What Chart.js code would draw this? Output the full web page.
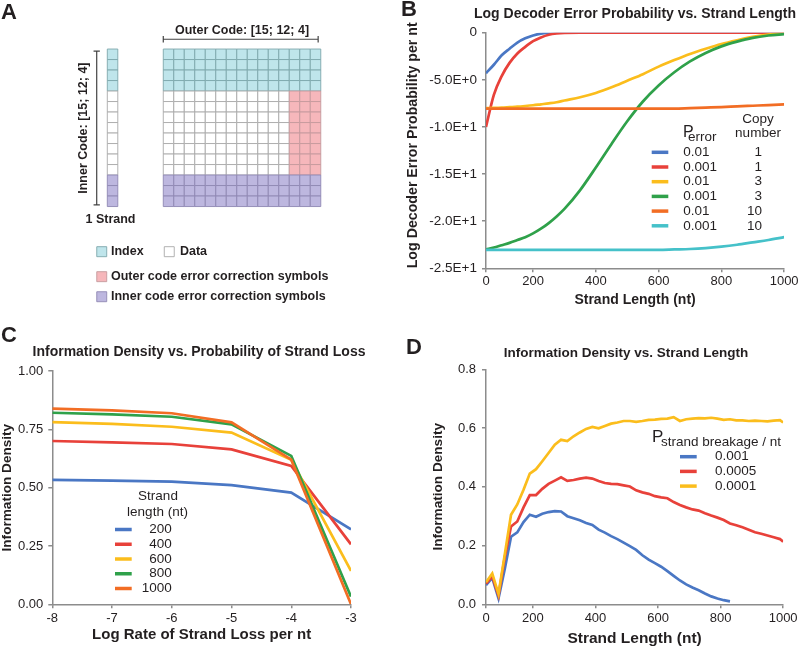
<!DOCTYPE html>
<html>
<head>
<meta charset="utf-8">
<script src="https://cdn.jsdelivr.net/npm/chart.js@4.4.1/dist/chart.umd.min.js"></script>
<style>
  html, body { margin: 0; padding: 0; background: #fff; }
  #page { position: relative; width: 800px; height: 646px; overflow: hidden; }
  #page canvas { position: absolute; }
  .tag { position: absolute; font: bold 22px/22px "Liberation Sans", Arial, sans-serif; color: #231f20; }
</style>
</head>
<body>
<div id="page">
  <canvas id="chartA" width="399" height="315" style="left:0;top:0"></canvas>
  <canvas id="chartB" width="400" height="323" style="left:400px;top:0"></canvas>
  <canvas id="chartC" width="400" height="323" style="left:0;top:323px"></canvas>
  <canvas id="chartD" width="400" height="323" style="left:400px;top:323px"></canvas>
  <div class="tag" style="left:1px;top:1px">A</div>
  <div class="tag" style="left:401px;top:-2px">B</div>
  <div class="tag" style="left:1px;top:324px">C</div>
  <div class="tag" style="left:406px;top:336px">D</div>
</div>
<script>
// ---------- data ----------
// A: rows of one block (top to bottom), 15 strands wide, last 3 columns are outer code parity
const blockRowKinds = ['index', 'index', 'index', 'index',
  'data', 'data', 'data', 'data', 'data', 'data', 'data', 'data',
  'inner', 'inner', 'inner'];
const blockColumns = 15;
const outerCodeColumns = 3;
const legendKindsA = ['index', 'data', 'outer', 'inner'];
const legendTextA = ['Index', 'Data', 'Outer code error correction symbols', 'Inner code error correction symbols'];

// B: log decoder error probability vs strand length
const lengthB = [50, 75, 100, 125, 150, 175, 200, 225, 250, 275, 300, 350, 400, 450, 500, 550, 600, 650, 700, 750, 800, 850, 900, 950, 1000];
const pErrorB = ['0.01', '0.001', '0.01', '0.001', '0.01', '0.001'];
const copyNumberB = ['1', '1', '3', '3', '10', '10'];
const err001x1 = [-4.3, -3.4, -2.4, -1.7, -1.05, -0.6, -0.3, -0.1, -0.02, 0, 0, 0, 0, 0, 0, 0, 0, 0, 0, 0, 0, 0, 0, 0, 0];
const err0001x1 = [-10, -6.6, -4.6, -3.2, -2.2, -1.5, -0.9, -0.5, -0.22, -0.08, -0.02, 0, 0, 0, 0, 0, 0, 0, 0, 0, 0, 0, 0, 0, 0];
const err001x3 = [-8.0, -7.98, -7.95, -7.9, -7.85, -7.78, -7.7, -7.6, -7.5, -7.38, -7.2, -6.85, -6.4, -5.8, -5.1, -4.4, -3.6, -2.9, -2.25, -1.7, -1.2, -0.8, -0.45, -0.2, -0.05];
const err0001x3 = [-23.0, -22.8, -22.55, -22.3, -22.0, -21.7, -21.3, -20.8, -20.2, -19.5, -18.7, -16.7, -14.3, -11.8, -9.4, -7.3, -5.6, -4.2, -3.05, -2.15, -1.45, -0.95, -0.55, -0.3, -0.15];
const err001x10 = [-8.05, -8.05, -8.05, -8.05, -8.05, -8.05, -8.05, -8.05, -8.05, -8.05, -8.05, -8.05, -8.05, -8.05, -8.05, -8.05, -8.05, -8.05, -8.0, -7.95, -7.9, -7.82, -7.75, -7.68, -7.6];
const err0001x10 = [-23.05, -23.05, -23.05, -23.05, -23.05, -23.05, -23.05, -23.05, -23.05, -23.05, -23.05, -23.05, -23.05, -23.05, -23.05, -23.05, -23.05, -23.0, -22.95, -22.85, -22.7, -22.5, -22.25, -22.0, -21.7];

// C: information density vs log rate of strand loss
const lossRateC = [-8, -7, -6, -5, -4, -3];
const strandLengthC = ['200', '400', '600', '800', '1000'];
const density200 = [0.533, 0.53, 0.526, 0.511, 0.479, 0.321];
const density400 = [0.70, 0.694, 0.687, 0.664, 0.593, 0.257];
const density600 = [0.781, 0.773, 0.761, 0.736, 0.619, 0.143];
const density800 = [0.821, 0.814, 0.804, 0.771, 0.636, 0.033];
const density1000 = [0.839, 0.831, 0.819, 0.780, 0.620, 0.0];

// D: information density vs strand length
const lengthD = [50, 70, 90, 110, 130, 150, 170, 190, 210, 230, 250, 270, 290, 310, 330, 350, 370, 390, 410, 430,
  450, 470, 490, 510, 530, 550, 570, 590, 610, 630, 650, 670, 690, 710, 730, 750, 770, 790, 810, 830,
  850, 870, 890, 910, 930, 950, 970, 990, 1000];
const breakageD = ['0.001', '0.0005', '0.0001'];
const densityB001 = [0.065, 0.09, 0.02, 0.12, 0.23, 0.245, 0.28, 0.305, 0.298, 0.308, 0.314, 0.317, 0.316, 0.30, 0.293, 0.286, 0.277, 0.27, 0.254, 0.244,
  0.232, 0.222, 0.21, 0.198, 0.185, 0.167, 0.152, 0.14, 0.128, 0.113, 0.097, 0.081, 0.068, 0.057, 0.048, 0.037, 0.027, 0.02, 0.014, 0.01,
  null, null, null, null, null, null, null, null, null];
const densityB0005 = [0.07, 0.095, 0.03, 0.16, 0.265, 0.282, 0.33, 0.372, 0.372, 0.393, 0.41, 0.421, 0.432, 0.42, 0.423, 0.428, 0.431, 0.428, 0.42, 0.413,
  0.41, 0.409, 0.405, 0.401, 0.388, 0.381, 0.376, 0.368, 0.364, 0.361, 0.348, 0.338, 0.33, 0.323, 0.319, 0.31, 0.302, 0.295, 0.287, 0.275,
  0.269, 0.262, 0.254, 0.245, 0.24, 0.234, 0.228, 0.222, 0.213];
const densityB0001 = [0.075, 0.105, 0.035, 0.17, 0.305, 0.34, 0.39, 0.445, 0.46, 0.487, 0.515, 0.543, 0.56, 0.556, 0.572, 0.585, 0.597, 0.604, 0.599, 0.607,
  0.615, 0.619, 0.624, 0.624, 0.621, 0.624, 0.628, 0.629, 0.631, 0.632, 0.637, 0.624, 0.63, 0.632, 0.634, 0.633, 0.635, 0.632, 0.628, 0.63,
  0.626, 0.626, 0.624, 0.625, 0.624, 0.623, 0.625, 0.627, 0.619];

// shared strand length axis (axis starts a little right of zero, first tick labelled 0)
const lengthTicks = [50, 200, 400, 600, 800, 1000];
const lengthTickLabels = ['0', '200', '400', '600', '800', '1000'];

// ---------- styles ----------
const FONT = '"Liberation Sans", Arial, Helvetica, sans-serif';
const INK = '#231f20';
const AXIS_GREY = '#8c8c8c';
const BLUE = '#4a77c4', RED = '#e8413a', YELLOW = '#fbbd1c', GREEN = '#2fa14a', ORANGE = '#f26d24', CYAN = '#45c1c9';
const cellStyle = {
  index: { fill: '#bfe5eb', line: '#7ea7ac' },
  data: { fill: '#ffffff', line: '#a9a9a9' },
  outer: { fill: '#f6b7bb', line: '#c59a9d' },
  inner: { fill: '#bdb7df', line: '#8e88b3' }
};

Chart.defaults.font.family = FONT;
Chart.defaults.color = INK;
Chart.defaults.animation = false;
Chart.defaults.plugins.legend.display = false;
Chart.defaults.plugins.tooltip.enabled = false;

function lineSet(label, xs, ys, color, i, extra) {
  return Object.assign({
    label: label,
    data: xs.map((x, k) => ({ x: x, y: ys[k] })),
    borderColor: color,
    borderWidth: 2.7,
    pointRadius: 0,
    fill: false,
    order: -i
  }, extra || {});
}

function axisBase() {
  return {
    border: { color: AXIS_GREY, width: 1.5 },
    grid: { drawOnChartArea: false, tickLength: 4, color: AXIS_GREY, lineWidth: 1.5 }
  };
}

function drawSwatch(ctx, color, x0, x1, y) {
  ctx.strokeStyle = color;
  ctx.lineWidth = 3.5;
  ctx.beginPath();
  ctx.moveTo(x0, y);
  ctx.lineTo(x1, y);
  ctx.stroke();
}

// panel title, drawn without the built-in plugin so it is not squeezed to the plot width
function drawTitle(ctx, text, x, y, size) {
  ctx.save();
  ctx.fillStyle = INK;
  ctx.font = 'bold ' + size + 'px ' + FONT;
  ctx.textAlign = 'center';
  ctx.textBaseline = 'middle';
  ctx.fillText(text, x, y);
  ctx.restore();
}

// ---------- A: block diagram drawn as square points ----------
(function () {
  const GX = 15.55, GY = 4.67, SX = 10.22; // grid origin and strand column, in cell units
  const cells = [];
  blockRowKinds.forEach((kind, r) => {
    for (let c = 0; c < blockColumns; c++) {
      const k = (kind === 'data' && c >= blockColumns - outerCodeColumns) ? 'outer' : kind;
      cells.push({ x: GX + c + 0.5, y: GY + r + 0.5, k: k });
    }
  });
  const strand = blockRowKinds.map((kind, r) => ({ x: SX + 0.5, y: GY + r + 0.5, k: kind }));
  const legendPos = [[9.69, 23.97], [16.12, 23.97], [9.69, 26.35], [9.69, 28.26]];
  const legendTextPos = [[10.57, 23.97], [17.14, 23.97], [10.57, 26.35], [10.57, 28.26]];
  const legendPts = legendKindsA.map((k, i) => ({ x: legendPos[i][0], y: legendPos[i][1], k: k }));

  const unit = chart => chart.scales.x.getPixelForValue(1) - chart.scales.x.getPixelForValue(0);
  const cellSet = (data, size) => ({
    data: data,
    pointStyle: 'rect',
    pointRadius: ctx => unit(ctx.chart) * size * Math.SQRT1_2,
    backgroundColor: ctx => cellStyle[ctx.raw.k].fill,
    borderColor: ctx => cellStyle[ctx.raw.k].line,
    borderWidth: 0.9
  });

  const annotate = {
    id: 'annotateA',
    afterDatasetsDraw(chart) {
      const { ctx, scales: { x, y } } = chart;
      const px = v => x.getPixelForValue(v), py = v => y.getPixelForValue(v);
      ctx.save();
      ctx.strokeStyle = '#444';
      ctx.lineWidth = 1.2;
      // outer code bracket
      ctx.beginPath();
      ctx.moveTo(px(GX), py(3.74)); ctx.lineTo(px(GX + 14.75), py(3.74));
      ctx.moveTo(px(GX), py(3.44)); ctx.lineTo(px(GX), py(4.04));
      ctx.moveTo(px(GX + 14.75), py(3.44)); ctx.lineTo(px(GX + 14.75), py(4.04));
      // inner code bracket
      ctx.moveTo(px(9.21), py(4.86)); ctx.lineTo(px(9.21), py(19.52));
      ctx.moveTo(px(8.91), py(4.86)); ctx.lineTo(px(9.51), py(4.86));
      ctx.moveTo(px(8.91), py(19.52)); ctx.lineTo(px(9.51), py(19.52));
      ctx.stroke();

      ctx.fillStyle = INK;
      ctx.font = 'bold 12.5px ' + FONT;
      ctx.textAlign = 'center';
      ctx.textBaseline = 'alphabetic';
      ctx.fillText('Outer Code: [15; 12; 4]', px(GX + 7.5), py(3.28));
      ctx.fillText('1 Strand', px(10.52), py(21.25));
      ctx.save();
      ctx.translate(px(7.93), py(12.2));
      ctx.rotate(-Math.PI / 2);
      ctx.textBaseline = 'middle';
      ctx.fillText('Inner Code: [15; 12; 4]', 0, 0);
      ctx.restore();

      ctx.textAlign = 'left';
      ctx.textBaseline = 'middle';
      legendTextA.forEach((t, i) => ctx.fillText(t, px(legendTextPos[i][0]), py(legendTextPos[i][1])));
      ctx.restore();
    }
  };

  new Chart(document.getElementById('chartA'), {
    type: 'scatter',
    data: { datasets: [cellSet(cells, 1), cellSet(strand, 1), cellSet(legendPts, 0.95)] },
    options: {
      responsive: false,
      layout: { padding: 0 },
      scales: {
        x: { type: 'linear', display: false, min: 0, max: 38 },
        y: { type: 'linear', display: false, min: 0, max: 30, reverse: true }
      }
    },
    plugins: [annotate]
  });
})();

// ---------- B ----------
(function () {
  const colors = [BLUE, RED, YELLOW, GREEN, ORANGE, CYAN];
  const series = [err001x1, err0001x1, err001x3, err0001x3, err001x10, err0001x10];
  const legendB = {
    id: 'legendB',
    afterDraw(chart) {
      const ctx = chart.ctx;
      drawTitle(ctx, 'Log Decoder Error Probability vs. Strand Length', 235, 13.7, 14);
      ctx.save();
      ctx.fillStyle = INK;
      ctx.textBaseline = 'alphabetic';
      ctx.textAlign = 'left';
      ctx.font = '16px ' + FONT;
      ctx.fillText('P', 283, 136.7);
      ctx.font = '13.5px ' + FONT;
      ctx.fillText('error', 288, 140.5);
      ctx.textAlign = 'center';
      ctx.fillText('Copy', 358, 123.3);
      ctx.fillText('number', 358, 136.7);
      ctx.textBaseline = 'middle';
      pErrorB.forEach((p, i) => {
        const y = 152.3 + i * 14.7;
        drawSwatch(ctx, colors[i], 251.7, 268.3, y);
        ctx.textAlign = 'left';
        ctx.fillText(p, 283.3, y);
        ctx.textAlign = 'right';
        ctx.fillText(copyNumberB[i], 362, y);
      });
      ctx.restore();
    }
  };

  new Chart(document.getElementById('chartB'), {
    type: 'line',
    data: {
      datasets: series.map((s, i) => lineSet(pErrorB[i] + ' / ' + copyNumberB[i], lengthB, s, colors[i], i,
        { cubicInterpolationMode: 'monotone' }))
    },
    options: {
      responsive: false,
      layout: { padding: { left: 0, right: 14.3, top: 32.7, bottom: 0 } },
      scales: {
        x: Object.assign(axisBase(), {
          type: 'linear', min: 50, max: 1000,
          afterFit: s => { s.height = 54.7; },
          afterBuildTicks: s => { s.ticks = lengthTicks.map(v => ({ value: v })); },
          ticks: { padding: 1.4, font: { size: 13 }, color: INK, callback: (v, i) => lengthTickLabels[i] },
          title: { display: true, text: 'Strand Length (nt)', color: INK, font: { size: 14, weight: 'bold' }, padding: { top: 0, bottom: 14.6 } }
        }),
        y: Object.assign(axisBase(), {
          min: -25, max: 0,
          afterFit: s => { s.width = 86; },
          ticks: { stepSize: 5, padding: 5, font: { size: 13.5 }, color: INK,
            callback: v => v === 0 ? '0' : v.toExponential(1).toUpperCase() },
          title: { display: true, text: 'Log Decoder Error Probability per nt', align: 'start', color: INK,
            font: { size: 14.2, weight: 'bold' }, padding: { top: 4.5, bottom: 0 } }
        })
      }
    },
    plugins: [legendB]
  });
})();

// ---------- C ----------
(function () {
  const colors = [BLUE, RED, YELLOW, GREEN, ORANGE];
  const series = [density200, density400, density600, density800, density1000];
  const legendC = {
    id: 'legendC',
    afterDraw(chart) {
      const ctx = chart.ctx;
      drawTitle(ctx, 'Information Density vs. Probability of Strand Loss', 199, 29, 14);
      ctx.save();
      ctx.fillStyle = INK;
      ctx.font = '13.5px ' + FONT;
      ctx.textAlign = 'center';
      ctx.textBaseline = 'alphabetic';
      ctx.fillText('Strand', 158, 177);
      ctx.fillText('length (nt)', 157.5, 192.5);
      ctx.textBaseline = 'middle';
      ctx.textAlign = 'right';
      strandLengthC.forEach((t, i) => {
        const y = 206.5 + i * 14.75;
        drawSwatch(ctx, colors[i], 115, 131.7, y);
        ctx.fillText(t, 171.7, y);
      });
      ctx.restore();
    }
  };

  new Chart(document.getElementById('chartC'), {
    type: 'line',
    data: { datasets: series.map((s, i) => lineSet(strandLengthC[i], lossRateC, s, colors[i], i, { tension: 0 })) },
    options: {
      responsive: false,
      layout: { padding: { left: 0, right: 49, top: 48, bottom: 0 } },
      scales: {
        x: Object.assign(axisBase(), {
          type: 'linear', min: -8, max: -3,
          afterFit: s => { s.height = 41.7; },
          ticks: { stepSize: 1, padding: 2.4, font: { size: 13 }, color: INK },
          title: { display: true, text: 'Log Rate of Strand Loss per nt', color: INK, font: { size: 15, weight: 'bold' }, padding: { top: 0, bottom: 2.2 } }
        }),
        y: Object.assign(axisBase(), {
          min: 0, max: 1,
          afterFit: s => { s.width = 52.3; },
          ticks: { stepSize: 0.25, padding: 5, font: { size: 13 }, color: INK, callback: v => v.toFixed(2) },
          title: { display: true, text: 'Information Density', color: INK, font: { size: 13.6, weight: 'bold' }, padding: { top: -1, bottom: 0 } }
        })
      }
    },
    plugins: [legendC]
  });
})();

// ---------- D ----------
(function () {
  const colors = [BLUE, RED, YELLOW];
  const series = [densityB001, densityB0005, densityB0001];
  const legendD = {
    id: 'legendD',
    afterDraw(chart) {
      const ctx = chart.ctx;
      drawTitle(ctx, 'Information Density vs. Strand Length', 226, 30, 13.5);
      ctx.save();
      ctx.fillStyle = INK;
      ctx.textAlign = 'left';
      ctx.textBaseline = 'alphabetic';
      ctx.font = '17px ' + FONT;
      ctx.fillText('P', 252, 118.7);
      ctx.font = '13.5px ' + FONT;
      ctx.fillText('strand breakage / nt', 261, 123);
      ctx.textBaseline = 'middle';
      breakageD.forEach((t, i) => {
        const y = 133.7 + i * 14.7;
        drawSwatch(ctx, colors[i], 280, 296.7, y);
        ctx.fillText(t, 315, y);
      });
      ctx.restore();
    }
  };

  new Chart(document.getElementById('chartD'), {
    type: 'line',
    data: { datasets: series.map((s, i) => lineSet(breakageD[i], lengthD, s, colors[i], i, { tension: 0 })) },
    options: {
      responsive: false,
      layout: { padding: { left: 0, right: 14.7, top: 46.3, bottom: 0 } },
      scales: {
        x: Object.assign(axisBase(), {
          type: 'linear', min: 50, max: 1000,
          afterFit: s => { s.height = 41.7; },
          afterBuildTicks: s => { s.ticks = lengthTicks.map(v => ({ value: v })); },
          ticks: { padding: 2.4, font: { size: 13 }, color: INK, callback: (v, i) => lengthTickLabels[i] },
          title: { display: true, text: 'Strand Length (nt)', color: INK, font: { size: 15.5, weight: 'bold' }, padding: { top: 0, bottom: -2.4 } }
        }),
        y: Object.assign(axisBase(), {
          min: 0, max: 0.8,
          afterFit: s => { s.width = 86; },
          ticks: { stepSize: 0.2, padding: 6, font: { size: 13 }, color: INK, callback: v => v.toFixed(1) },
          title: { display: true, text: 'Information Density', color: INK, font: { size: 13.6, weight: 'bold' }, padding: { top: 29.8, bottom: 0 } }
        })
      }
    },
    plugins: [legendD]
  });
})();
</script>
</body>
</html>
